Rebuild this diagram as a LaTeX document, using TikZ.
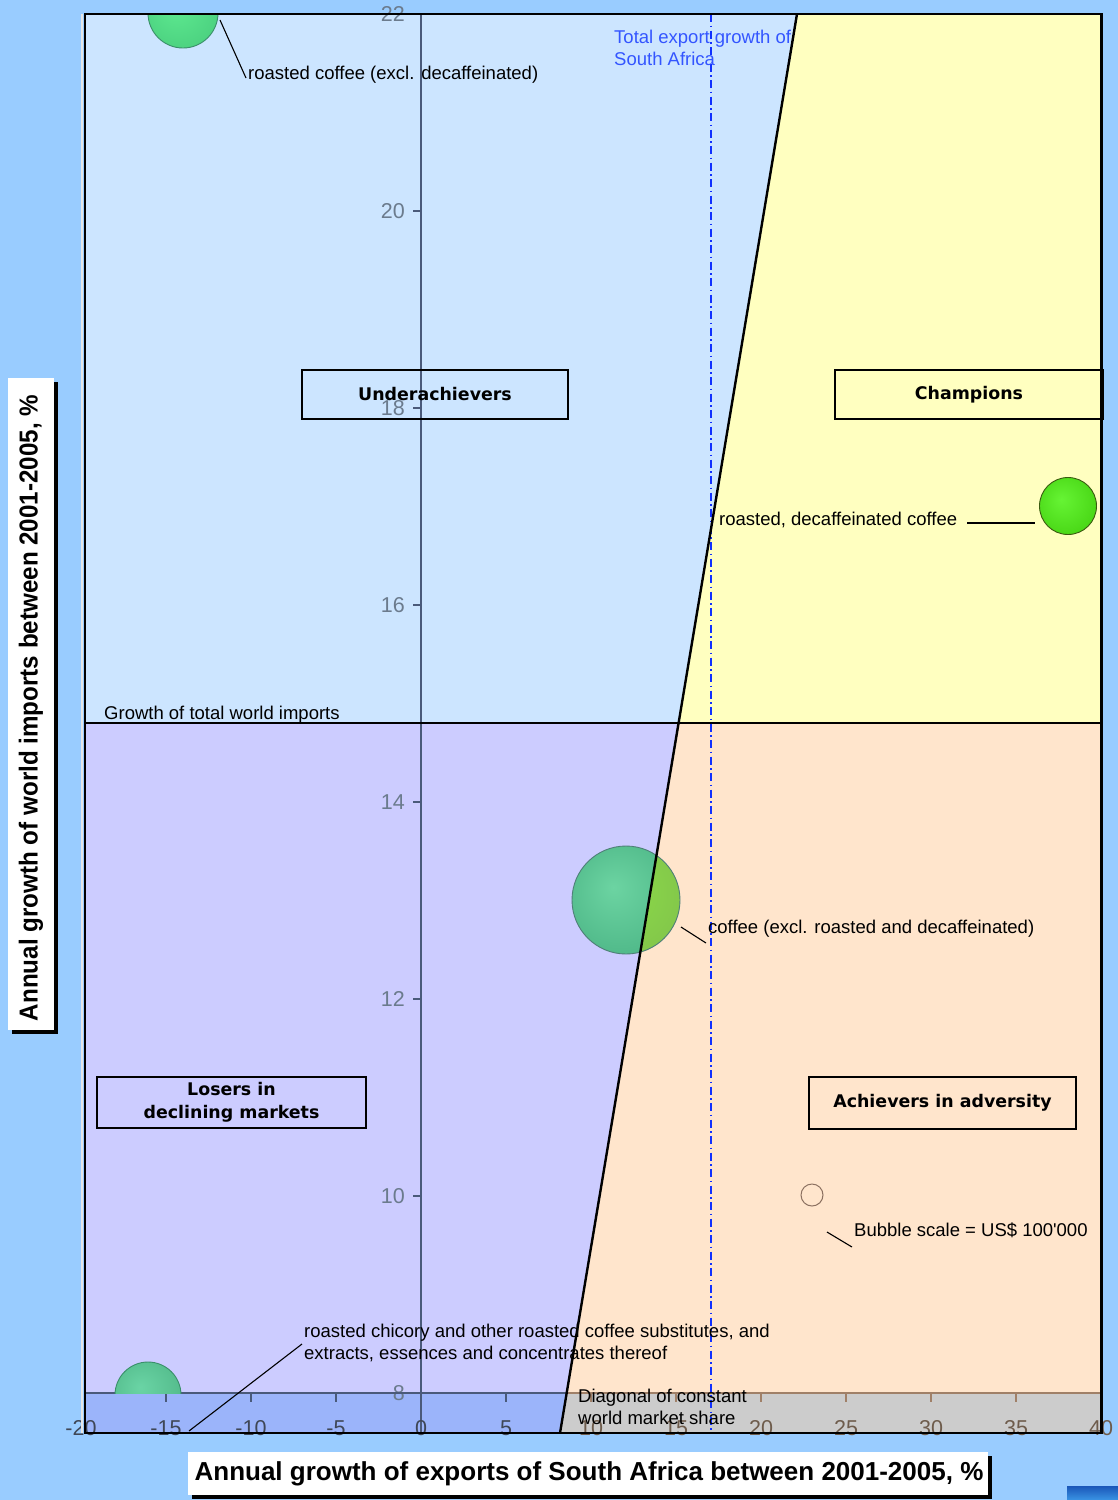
\documentclass[tikz,border=0pt]{standalone}
\usepackage{fontspec}
\setmainfont{Liberation Sans}
\newfontfamily\boxfamily{DejaVu Sans}
\newcommand{\lblsize}{\fontsize{18.5}{22}\selectfont}
\newcommand{\ticksize}{\fontsize{21.5}{24}\selectfont}

% palette
\definecolor{outerbg}{HTML}{99CCFF}
\definecolor{qUL}{HTML}{CCE5FF}
\definecolor{qUR}{HTML}{FFFFC0}
\definecolor{qLL}{HTML}{CCCCFF}
\definecolor{qLR}{HTML}{FFE5CC}
\definecolor{stripL}{HTML}{9BB4FA}
\definecolor{stripR}{HTML}{CCCCCC}
\definecolor{axiscol}{HTML}{4A5A7A}
\definecolor{ylabcol}{HTML}{6B7B8D}
\definecolor{xlabL}{HTML}{3F4756}
\definecolor{xlabR}{HTML}{6E5C4C}
\definecolor{baseR}{HTML}{A08068}
\definecolor{sablue}{HTML}{3355FF}
\definecolor{dashblue}{HTML}{1030FF}
\definecolor{bubAin}{HTML}{5EEA90}
\definecolor{bubAout}{HTML}{3FC075}
\definecolor{bubAline}{HTML}{3A8F6A}
\definecolor{bubBLin}{HTML}{6CD4A2}
\definecolor{bubBLout}{HTML}{3BA577}
\definecolor{bubBRin}{HTML}{8CDD48}
\definecolor{bubBRout}{HTML}{7DB84C}
\definecolor{bubBline}{HTML}{4F7F78}
\definecolor{bubCin}{HTML}{66F434}
\definecolor{bubCout}{HTML}{34C200}
\definecolor{bubCline}{HTML}{3A5A10}
\definecolor{bubDin}{HTML}{6AD4A5}
\definecolor{bubDout}{HTML}{44AA7A}
\definecolor{scalecol}{HTML}{8B7060}
\definecolor{tasktop}{HTML}{1A56B8}
\definecolor{taskbot}{HTML}{3A94E4}

\pgfdeclareradialshading{bubA}{\pgfpoint{-6bp}{6bp}}{color(0bp)=(bubAin); color(50bp)=(bubAout)}
\pgfdeclareradialshading{bubBL}{\pgfpoint{-6bp}{6bp}}{color(0bp)=(bubBLin); color(50bp)=(bubBLout)}
\pgfdeclareradialshading{bubBR}{\pgfpoint{-6bp}{6bp}}{color(0bp)=(bubBRin); color(50bp)=(bubBRout)}
\pgfdeclareradialshading{bubC}{\pgfpoint{-6bp}{6bp}}{color(0bp)=(bubCin); color(50bp)=(bubCout)}
\pgfdeclareradialshading{bubD}{\pgfpoint{-6bp}{6bp}}{color(0bp)=(bubDin); color(50bp)=(bubDout)}

\begin{document}
\begin{tikzpicture}[x=1pt, y=-1pt,
  lbl/.style={anchor=base west, inner sep=0pt, font=\lblsize},
  lblblock/.style={anchor=north west, inner sep=0pt, align=left, font=\lblsize},
  ytick/.style={anchor=east, inner sep=0pt, text=ylabcol, font=\ticksize},
  xtick/.style={anchor=center, inner sep=0pt, font=\ticksize},
  boxlbl/.style={draw=black, line width=2pt, inner sep=0pt, align=center,
                 font=\boxfamily\bfseries\fontsize{17.4}{23}\selectfont},
  leader/.style={draw=black, line width=1.1pt},
  bubline/.style={line width=0.9pt}]

\useasboundingbox (0,0) rectangle (1118,1500);
\fill[outerbg] (0,0) rectangle (1118,1500);

% diagonal of constant world market share
\coordinate (dTop) at (797,14);
\coordinate (dMid) at (678.6,723);
\coordinate (dAx)  at (566.7,1393);
\coordinate (dBot) at (560,1433);

% quadrant backgrounds
\fill[qUL] (85,14) -- (dTop) -- (dMid) -- (85,723) -- cycle;
\fill[qUR] (dTop) -- (1101,14) -- (1101,723) -- (dMid) -- cycle;
\fill[qLL] (85,723) -- (dMid) -- (dAx) -- (85,1393) -- cycle;
\fill[qLR] (dMid) -- (1101,723) -- (1101,1393) -- (dAx) -- cycle;
\fill[stripL] (85,1393) -- (dAx) -- (dBot) -- (85,1433) -- cycle;
\fill[stripR] (dAx) -- (1101,1393) -- (1101,1433) -- (dBot) -- cycle;

% vertical axis with ticks and labels
\draw[axiscol, line width=1.2pt] (421,14) -- (421,1433);
\foreach \v in {8,10,...,22}{
  \pgfmathsetmacro{\yy}{1393-98.5*(\v-8)}
  \draw[axiscol, line width=1.2pt] (413,\yy) -- (421,\yy);
  \node[ytick] (yl\v) at (405,\yy) {\v};
}

% horizontal axis line at 8 with ticks
\draw[axiscol, line width=1.2pt] (85,1393) -- (dAx);
\draw[baseR, line width=1.2pt] (dAx) -- (1101,1393);
\foreach \v in {-15,-10,...,5}{
  \draw[axiscol, line width=1.2pt] ({421+17*\v},1393) -- ({421+17*\v},1402);
}
\foreach \v in {10,15,...,35}{
  \draw[baseR, line width=1.2pt] ({421+17*\v},1393) -- ({421+17*\v},1402);
}
\foreach \v in {-20,-15,...,5}{
  \node[xtick, text=xlabL] (xl\v) at ({421+17*\v},1428) {\v};
}
\foreach \v in {10,15,...,40}{
  \node[xtick, text=xlabR] (xl\v) at ({421+17*\v},1428) {\v};
}

% bubbles
\coordinate (bA) at (183,13);
\coordinate (bB) at (626,900);
\coordinate (bC) at (1068,506);
\coordinate (bD) at (148,1395);
\begin{scope}
  \clip (85,14) rectangle (1101,1393);
  \shade[shading=bubA] (bA) circle (35);
  \draw[bubAline, bubline] (bA) circle (35);
  \shade[shading=bubBL] (bB) circle (54);
  \begin{scope}
    \clip (dTop) -- (1101,14) -- (1101,1433) -- (dBot) -- cycle;
    \shade[shading=bubBR] (bB) circle (54);
  \end{scope}
  \draw[bubBline, bubline] (bB) circle (54);
  \shade[shading=bubC] (bC) circle (28.5);
  \draw[bubCline, bubline] (bC) circle (28.5);
  \shade[shading=bubD] (bD) circle (33);
  \draw[bubAline, bubline] (bD) circle (33);
\end{scope}
\coordinate (bS) at (812,1195);
\draw[scalecol, line width=1pt] (bS) circle (11);

% reference lines
\coordinate (wL) at (85,723);
\coordinate (wR) at (1101,723);
\draw[black, line width=1.5pt] (wL) -- (wR);
\coordinate (tTop) at (711,14);
\coordinate (tBot) at (711,1433);
\draw[dashblue, line width=1.6pt, dash pattern=on 8pt off 3.5pt on 1.5pt off 3.5pt] (tTop) -- (tBot);
\draw[black, line width=2.4pt] (dTop) -- (dBot);

% bubble labels and leaders
\node[lbl] (nA) at (248,79) {roasted coffee (excl. decaffeinated)};
\coordinate (lA1) at (220,20);
\coordinate (lA2) at (246,78);
\draw[leader] (lA1) -- (lA2);

\node[lbl] (nC) at (719,525) {roasted, decaffeinated coffee};
\coordinate (lC1) at (967,523);
\coordinate (lC2) at (1035,523);
\draw[leader] (lC1) -- (lC2);

\node[lbl] (nB) at (708,933) {coffee (excl. roasted and decaffeinated)};
\coordinate (lB1) at (681,927);
\coordinate (lB2) at (706,943);
\draw[leader] (lB1) -- (lB2);

\node[lblblock] (nD) at (304,1323.5) {roasted chicory and other roasted coffee substitutes, and\\extracts, essences and concentrates thereof};
\coordinate (lD1) at (189,1431);
\coordinate (lD2) at (302,1344);
\draw[leader] (lD1) -- (lD2);

\node[lbl] (nS) at (854,1236) {Bubble scale = US\$ 100\textquotesingle 000};
\coordinate (lS1) at (827,1232);
\coordinate (lS2) at (852,1247);
\draw[leader] (lS1) -- (lS2);

% line captions
\node[lbl] (nW) at (104,719) {Growth of total world imports};
\node[lblblock, text=sablue] (nT) at (614,30) {Total export growth of\\South Africa};
\node[lblblock] (nDg) at (578,1388.5) {Diagonal of constant\\world market share};

% quadrant names
\node[boxlbl, minimum width=266, minimum height=49] (under) at (435,394.5) {Underachievers};
\node[boxlbl, minimum width=268, minimum height=49] (champ) at (969,394.5) {Champions};
\node[boxlbl, minimum width=269, minimum height=51] (losers) at (231.5,1102.5) {Losers in\\declining markets};
\node[boxlbl, minimum width=267, minimum height=52] (achiev) at (942.5,1103) {Achievers in adversity};

% plot frame
\draw[white!80!gray, line width=1.5pt] (82,14) -- (82,1433);
\draw[black, line width=2pt] (85,14) -- (1101,14);
\draw[black, line width=2.5pt] (85,13) -- (85,1434);
\draw[black, line width=2pt] (85,1433) -- (1101,1433);
\draw[black, line width=3pt] (1101,13) -- (1101,1434);

% axis titles
\fill[black] (192,1456) rectangle (992,1499);
\fill[white] (188,1452) rectangle (988,1495);
\node[inner sep=0pt, font=\bfseries\fontsize{26}{30}\selectfont] (xtitle) at (589,1474) {Annual growth of exports of South Africa between 2001-2005, \%};
\fill[black] (12,382) rectangle (58,1034);
\fill[white] (8,378) rectangle (54,1030);
\node[inner sep=0pt, rotate=90] (ytitle) at (31,708) {\scalebox{0.93}[1]{\bfseries\fontsize{26}{30}\selectfont Annual growth of world imports between 2001-2005, \%}};

% window edge at lower right
\shade[top color=tasktop, bottom color=taskbot] (1067,1486) rectangle (1118,1500);
\end{tikzpicture}
\end{document}
